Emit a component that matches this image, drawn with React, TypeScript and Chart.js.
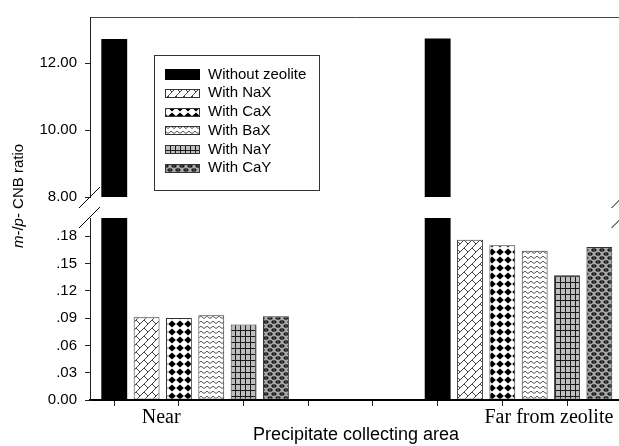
import React, { useEffect, useRef } from "react";
import { Chart, registerables } from "chart.js";

Chart.register(...registerables);

// ---------------- data ----------------
const categories = ["Near", "Far from zeolite"];
const groupPositions = [0, 1];
const categoryLabelPositions = [-0.105, 1.094];
const seriesNames = ["Without zeolite", "With NaX", "With CaX", "With BaX", "With NaY", "With CaY"];
const withoutZeolite = [12.72, 12.74];
const withNaX = [0.091, 0.176];
const withCaX = [0.09, 0.17];
const withBaX = [0.093, 0.164];
const withNaY = [0.083, 0.137];
const withCaY = [0.092, 0.168];
const upperYTicks = [8, 10, 12];
const lowerYTicks = [0, 0.03, 0.06, 0.09, 0.12, 0.15, 0.18];
const xTickMarks = [-0.25, -0.05, 0.15, 0.35, 0.55, 0.75, 0.95, 1.15];
const xTitle = "Precipitate collecting area";

const seriesValues = [withoutZeolite, withNaX, withCaX, withBaX, withNaY, withCaY];

const X_MIN = -0.325;
const X_MAX = 1.32;
const UPPER_Y = { min: 8, max: 13.38 };
const LOWER_Y = { min: 0, max: 0.2 };

const SANS = "'Liberation Sans', Arial, Helvetica, sans-serif";
const SERIF = "'Liberation Serif', 'Times New Roman', serif";

function tile(w: number, h: number, draw: (g: CanvasRenderingContext2D) => void): CanvasPattern {
  const c = document.createElement("canvas");
  c.width = w;
  c.height = h;
  const g = c.getContext("2d")!;
  draw(g);
  return g.createPattern(c, "repeat")!;
}

function makePatterns(): (string | CanvasPattern)[] {
  const nax = tile(8, 8, (g) => {
    g.fillStyle = "#fff";
    g.fillRect(0, 0, 8, 8);
    g.strokeStyle = "#444";
    g.lineWidth = 1;
    g.beginPath();
    g.moveTo(0, 8);
    g.lineTo(8, 0);
    g.moveTo(0, 0);
    g.lineTo(4, 4);
    g.stroke();
  });
  const cax = tile(8, 8, (g) => {
    g.fillStyle = "#fff";
    g.fillRect(0, 0, 8, 8);
    g.fillStyle = "#000";
    g.beginPath();
    g.moveTo(4, 0.6);
    g.lineTo(7.8, 4);
    g.lineTo(4, 7.4);
    g.lineTo(0.2, 4);
    g.closePath();
    g.fill();
  });
  const bax = tile(6, 5, (g) => {
    g.fillStyle = "#fff";
    g.fillRect(0, 0, 6, 5);
    g.strokeStyle = "#555";
    g.lineWidth = 1;
    g.beginPath();
    g.moveTo(0, 3.5);
    g.lineTo(3, 1.2);
    g.lineTo(6, 3.5);
    g.stroke();
  });
  const nay = tile(5, 6, (g) => {
    g.fillStyle = "#bdbdbd";
    g.fillRect(0, 0, 5, 6);
    g.fillStyle = "#1a1a1a";
    g.fillRect(0, 0, 1, 6);
    g.fillRect(0, 0, 5, 1);
  });
  const cay = tile(8, 8, (g) => {
    g.fillStyle = "#a9a9a9";
    g.fillRect(0, 0, 8, 8);
    g.fillStyle = "#111";
    const blob = (x: number, y: number) => {
      g.beginPath();
      g.ellipse(x, y, 2.6, 1.7, 0, 0, Math.PI * 2);
      g.fill();
    };
    blob(2, 2);
    blob(6, 6);
    blob(10, 2);
    blob(-2, 6);
    g.fillStyle = "#cfcfcf";
    g.fillRect(1.5, 1.5, 1, 1);
    g.fillRect(5.5, 5.5, 1, 1);
  });
  return ["#000", nax, cax, bax, nay, cay];
}

function buildDatasets(patterns: (string | CanvasPattern)[]) {
  return seriesNames.map((name, i) => ({
    label: name,
    data: groupPositions.map((x, j) => ({ x, y: seriesValues[i][j] })),
    backgroundColor: patterns[i],
    borderColor: i === 0 ? "#000" : "#333",
    borderWidth: i === 0 ? 0 : 1,
    borderSkipped: false as const,
    categoryPercentage: 0.6,
    barPercentage: 0.8,
    clip: 0,
    xAxisID: "x",
    yAxisID: "y",
  }));
}

const hiddenBarAxis = {
  type: "linear" as const,
  display: false,
  min: X_MIN,
  max: X_MAX,
  offset: false,
  grid: { offset: false },
  afterBuildTicks: (s: any) => {
    s.ticks = groupPositions.map((v) => ({ value: v }));
  },
};

function breakMarks(where: "top" | "bottom") {
  return {
    id: "breakMarks" + where,
    afterDraw(chart: any) {
      const { ctx, chartArea } = chart;
      const y = where === "top" ? chartArea.top - 0.5 : chartArea.bottom + 0.5;
      ctx.save();
      ctx.strokeStyle = "#000";
      ctx.lineWidth = 1;
      for (const x of [chartArea.left - 0.5, chartArea.right]) {
        ctx.beginPath();
        ctx.moveTo(x - 10.5, y + 10.5);
        ctx.lineTo(x + 10.5, y - 10.5);
        ctx.stroke();
      }
      ctx.restore();
    },
  };
}

const legendPlugin = {
  id: "boxLegend",
  afterDraw(chart: any) {
    const { ctx, chartArea } = chart;
    const bx = chartArea.left + 64;
    const by = chartArea.top + 38;
    ctx.save();
    ctx.fillStyle = "#fff";
    ctx.fillRect(bx, by, 165, 135);
    ctx.strokeStyle = "#333";
    ctx.lineWidth = 1;
    ctx.strokeRect(bx + 0.5, by + 0.5, 165, 135);
    chart.data.datasets.forEach((ds: any, i: number) => {
      const cy = by + 19.5 + i * 18.75;
      const h = i === 0 ? 11 : 9;
      ctx.fillStyle = ds.backgroundColor;
      ctx.fillRect(bx + 11, Math.round(cy - h / 2), 35, h);
      if (i > 0) {
        ctx.strokeStyle = "#333";
        ctx.strokeRect(bx + 11.5, Math.round(cy - h / 2) + 0.5, 34, h - 1);
      }
      ctx.fillStyle = "#000";
      ctx.font = `15px ${SANS}`;
      ctx.textBaseline = "middle";
      ctx.textAlign = "left";
      ctx.fillText(ds.label, bx + 54, cy);
    });
    ctx.restore();
  },
};

const yTitlePlugin = {
  id: "yTitle",
  afterDraw(chart: any) {
    const { ctx } = chart;
    const parts: [string, boolean][] = [
      ["m", true],
      ["-/", false],
      ["p", true],
      ["- CNB ratio", false],
    ];
    ctx.save();
    ctx.translate(23, 196);
    ctx.rotate(-Math.PI / 2);
    ctx.fillStyle = "#000";
    ctx.textBaseline = "alphabetic";
    ctx.textAlign = "left";
    let total = 0;
    for (const [t, it] of parts) {
      ctx.font = `${it ? "italic " : ""}15px ${SANS}`;
      total += ctx.measureText(t).width;
    }
    let x = -total / 2;
    for (const [t, it] of parts) {
      ctx.font = `${it ? "italic " : ""}15px ${SANS}`;
      ctx.fillText(t, x, 0);
      x += ctx.measureText(t).width;
    }
    ctx.restore();
  },
};

export default function App() {
  const upperRef = useRef<HTMLCanvasElement>(null);
  const lowerRef = useRef<HTMLCanvasElement>(null);

  useEffect(() => {
    const patterns = makePatterns();

    const yAxisCommon = (min: number, max: number, ticks: number[], fmt: (v: number) => string) => ({
      type: "linear" as const,
      position: "left" as const,
      min,
      max,
      afterBuildTicks: (s: any) => {
        s.ticks = ticks.map((v) => ({ value: v }));
      },
      afterFit: (s: any) => {
        s.width = 90;
      },
      grid: { drawOnChartArea: false, tickLength: 5, tickColor: "#222", tickWidth: 1 },
      border: { display: true, color: "#222", width: 1, z: 1 },
      ticks: {
        color: "#000",
        font: { family: SANS, size: 15 },
        padding: 8,
        autoSkip: false,
        callback: (v: any) => fmt(Number(v)),
      },
    });

    const upper = new Chart(upperRef.current!, {
      type: "bar",
      data: { datasets: buildDatasets(patterns) as any },
      options: {
        responsive: false,
        animation: false,
        devicePixelRatio: 1,
        layout: { padding: { top: 15, left: 0, right: 18, bottom: 446 - 197 } },
        plugins: { legend: { display: false }, tooltip: { enabled: false } },
        scales: {
          x: hiddenBarAxis as any,
          xtop: {
            type: "linear",
            position: "top",
            min: X_MIN,
            max: X_MAX,
            offset: false,
            afterFit: (s: any) => {
              s.height = 0;
            },
            ticks: { display: false },
            grid: { drawOnChartArea: false, drawTicks: false, offset: false },
            border: { display: true, color: "#444", width: 1, z: 1 },
          } as any,
          y: yAxisCommon(UPPER_Y.min, UPPER_Y.max, upperYTicks, (v) => v.toFixed(2)) as any,
        },
      },
      plugins: [legendPlugin, breakMarks("bottom")],
    });

    const tickSet = [...xTickMarks, ...categoryLabelPositions].sort((a, b) => a - b);

    const lower = new Chart(lowerRef.current!, {
      type: "bar",
      data: { datasets: buildDatasets(patterns) as any },
      options: {
        responsive: false,
        animation: false,
        devicePixelRatio: 1,
        layout: { padding: { top: 218, left: 0, right: 18, bottom: 0 } },
        plugins: { legend: { display: false }, tooltip: { enabled: false } },
        scales: {
          x: hiddenBarAxis as any,
          xt: {
            type: "linear",
            position: "bottom",
            min: X_MIN,
            max: X_MAX,
            offset: false,
            afterBuildTicks: (s: any) => {
              s.ticks = tickSet.map((v) => ({ value: v }));
            },
            afterFit: (s: any) => {
              s.height = 46;
            },
            grid: {
              drawOnChartArea: false,
              offset: false,
              tickLength: 6,
              tickWidth: 1,
              tickColor: (c: any) =>
                c.tick && categoryLabelPositions.includes(c.tick.value) ? "rgba(0,0,0,0)" : "#222",
            },
            border: { display: true, color: "#000", width: 2, z: 1 },
            ticks: {
              autoSkip: false,
              maxRotation: 0,
              minRotation: 0,
              padding: 0,
              color: "#000",
              font: { family: SERIF, size: 20 },
              callback: (v: any) => {
                const idx = categoryLabelPositions.indexOf(Number(v));
                return idx >= 0 ? categories[idx] : "";
              },
            },
            title: {
              display: true,
              text: xTitle,
              color: "#000",
              font: { family: SANS, size: 18 },
              padding: { top: 0, bottom: 0 },
            },
          } as any,
          y: yAxisCommon(LOWER_Y.min, LOWER_Y.max, lowerYTicks, (v) =>
            v === 0 ? "0.00" : v.toFixed(2).replace(/^0/, "")
          ) as any,
        },
      },
      plugins: [breakMarks("top"), yTitlePlugin],
    });

    return () => {
      upper.destroy();
      lower.destroy();
    };
  }, []);

  const canvasStyle: React.CSSProperties = {
    position: "absolute",
    left: 0,
    top: 0,
    width: 640,
    height: 446,
  };

  return (
    <div
      style={{
        position: "fixed",
        left: 0,
        top: 0,
        width: 619,
        height: 446,
        overflow: "hidden",
        background: "#fff",
      }}
    >
      <canvas ref={lowerRef} width={640} height={446} style={canvasStyle} />
      <canvas ref={upperRef} width={640} height={446} style={canvasStyle} />
    </div>
  );
}
